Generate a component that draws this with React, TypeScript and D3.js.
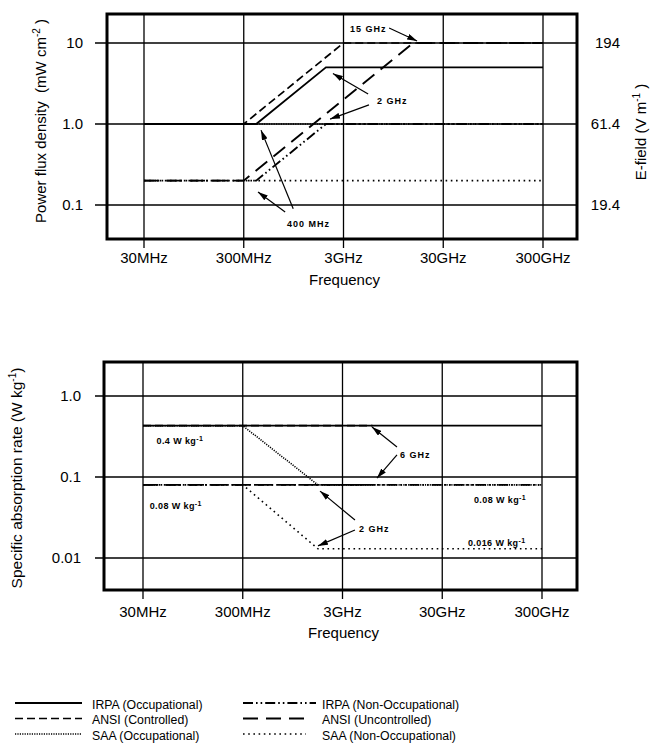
import React from "react";
import * as d3 from "d3";

type Pt = [number, number];

// frequency axis (MHz)
const freqTicks = [30, 300, 3000, 30000, 300000];
const freqTickLabels = ["30MHz", "300MHz", "3GHz", "30GHz", "300GHz"];

// power flux density axis (mW cm-2) and E-field axis (V m-1)
const pfdTicks = [0.1, 1, 10];
const pfdTickLabels = ["0.1", "1.0", "10"];
const efieldTicks = [19.4, 61.4, 194];
const efieldTickLabels = ["19.4", "61.4", "194"];

// SAR axis (W kg-1)
const sarTicks = [0.01, 0.1, 1];
const sarTickLabels = ["0.01", "0.1", "1.0"];

// power flux density limits [MHz, mW cm-2]
const irpaOccPfd: Pt[] = [[30, 1], [400, 1], [2000, 5], [300000, 5]];
const ansiCtrlPfd: Pt[] = [[30, 1], [300, 1], [3000, 10], [300000, 10]];
const saaOccPfd: Pt[] = [[30, 1], [300000, 1]];
const irpaNonPfd: Pt[] = [[30, 0.2], [400, 0.2], [2000, 1], [300000, 1]];
const ansiUncPfd: Pt[] = [[30, 0.2], [300, 0.2], [15000, 10], [300000, 10]];
const saaNonPfd: Pt[] = [[30, 0.2], [300000, 0.2]];

// SAR limits [MHz, W kg-1]
const irpaOccSar: Pt[] = [[30, 0.43], [300000, 0.43]];
const ansiCtrlSar: Pt[] = [[30, 0.43], [6000, 0.43]];
const saaOccSar: Pt[] = [[30, 0.43], [300, 0.43], [1700, 0.08], [300000, 0.08]];
const irpaNonSar: Pt[] = [[30, 0.08], [300000, 0.08]];
const ansiUncSar: Pt[] = [[30, 0.08], [6000, 0.08]];
const saaNonSar: Pt[] = [[30, 0.08], [300, 0.08], [1700, 0.013], [300000, 0.013]];

const seriesKeys = ["irpaOcc", "ansiCtrl", "saaOcc", "irpaNon", "ansiUnc", "saaNon"];
const seriesNames = [
  "IRPA (Occupational)",
  "ANSI (Controlled)",
  "SAA (Occupational)",
  "IRPA (Non-Occupational)",
  "ANSI (Uncontrolled)",
  "SAA (Non-Occupational)",
];

const styles: Record<string, { dash: string; width: number }> = {
  irpaOcc: { dash: "none", width: 1.8 },
  ansiCtrl: { dash: "8 4", width: 1.7 },
  saaOcc: { dash: "1.2 1.2", width: 1.6 },
  irpaNon: { dash: "10 3 1.6 3 1.6 3", width: 1.9 },
  ansiUnc: { dash: "15 8", width: 1.9 },
  saaNon: { dash: "1.6 3.6", width: 1.6 },
};

// annotations in data coordinates: label anchor and arrows [tail, tip]
type Note = { text: string; sup?: string; at: Pt; arrows: [Pt, Pt][] };

const pfdNotes: Note[] = [
  { text: "15 GHz", at: [3480, 14.9], arrows: [[[8600, 15.3], [16400, 10.6]]] },
  {
    text: "2 GHz",
    at: [6500, 1.92],
    arrows: [
      [[5300, 2.35], [2350, 4.2]],
      [[5400, 1.72], [2200, 1.15]],
    ],
  },
  {
    text: "400 MHz",
    at: [814, 0.058],
    arrows: [
      [[940, 0.09], [447, 0.84]],
      [[780, 0.082], [417, 0.145]],
    ],
  },
];

const sarNotes: Note[] = [
  { text: "0.4 W kg", sup: "-1", at: [41, 0.278], arrows: [] },
  { text: "0.08 W kg", sup: "-1", at: [35, 0.0439], arrows: [] },
  { text: "0.08 W kg", sup: "-1", at: [62400, 0.052], arrows: [] },
  { text: "0.016 W kg", sup: "-1", at: [54300, 0.0153], arrows: [] },
  {
    text: "6 GHz",
    at: [11300, 0.187],
    arrows: [
      [[10550, 0.235], [5930, 0.414]],
      [[10550, 0.187], [6650, 0.097]],
    ],
  },
  {
    text: "2 GHz",
    at: [4390, 0.0228],
    arrows: [
      [[4000, 0.0294], [1785, 0.067]],
      [[4000, 0.0222], [1704, 0.0141]],
    ],
  },
];

const FONT = "'Liberation Sans', Arial, Helvetica, sans-serif";

type PanelProps = {
  frame: { x0: number; x1: number; y0: number; y1: number };
  xRange: [number, number];
  yDomain: [number, number];
  yRange: [number, number];
  yTicks: number[];
  yTickLabels: string[];
  tickLabelX: number;
  series: Pt[][];
  notes: Note[];
  xLabelY: number;
  titleY: number;
};

function Panel(p: PanelProps) {
  const x = d3.scaleLog().domain([30, 300000]).range(p.xRange);
  const y = d3.scaleLog().domain(p.yDomain).range(p.yRange);
  const line = d3
    .line<Pt>()
    .x((d) => x(d[0]))
    .y((d) => y(d[1]));
  const { x0, x1, y0, y1 } = p.frame;
  return (
    <g>
      {p.yTicks.map((t, i) => (
        <g key={"h" + i}>
          <line x1={95} x2={x1} y1={y(t)} y2={y(t)} stroke="#000" strokeWidth={1.3} />
          <text x={p.tickLabelX} y={y(t)} dy="0.36em" textAnchor="end" fontSize={15}>
            {p.yTickLabels[i]}
          </text>
        </g>
      ))}
      {freqTicks.map((t, i) => (
        <g key={"v" + i}>
          <line x1={x(t)} x2={x(t)} y1={y0} y2={y1 + 9} stroke="#000" strokeWidth={1.3} />
          <text x={x(t)} y={p.xLabelY} textAnchor="middle" fontSize={15}>
            {freqTickLabels[i]}
          </text>
        </g>
      ))}
      <rect x={x0} y={y0} width={x1 - x0} height={y1 - y0} fill="none" stroke="#000" strokeWidth={3} />
      {p.series.map((s, i) => {
        const st = styles[seriesKeys[i]];
        return (
          <path
            key={"s" + i}
            d={line(s) || ""}
            fill="none"
            stroke="#000"
            strokeWidth={st.width}
            strokeDasharray={st.dash}
          />
        );
      })}
      {p.notes.map((n, i) => (
        <g key={"n" + i}>
          <text
            x={x(n.at[0])}
            y={y(n.at[1])}
            dy="0.35em"
            fontSize={9}
            fontWeight="bold"
            letterSpacing={n.sup ? 0.4 : 1}
          >
            {n.text}
            {n.sup && (
              <tspan dy={-3.5} fontSize={7}>
                {n.sup}
              </tspan>
            )}
          </text>
          {n.arrows.map((a, j) => (
            <line
              key={j}
              x1={x(a[0][0])}
              y1={y(a[0][1])}
              x2={x(a[1][0])}
              y2={y(a[1][1])}
              stroke="#000"
              strokeWidth={1.2}
              markerEnd="url(#ah)"
            />
          ))}
        </g>
      ))}
      <text x={x(3000) + 1} y={p.titleY} textAnchor="middle" fontSize={15}>
        Frequency
      </text>
    </g>
  );
}

export default function App() {
  const ye = d3.scaleLog().domain([19.4, 194]).range([205, 43]);
  const legendLeft = seriesKeys.slice(0, 3);
  const legendRight = seriesKeys.slice(3);
  const rowY = (i: number) => 704 + i * 15.5;
  return (
    <svg
      width={653}
      height={750}
      style={{ position: "absolute", left: 0, top: 0, background: "#fff" }}
      fontFamily={FONT}
    >
      <defs>
        <marker
          id="ah"
          viewBox="0 0 10 6"
          refX={10}
          refY={3}
          markerWidth={10}
          markerHeight={6}
          markerUnits="userSpaceOnUse"
          orient="auto"
        >
          <path d="M0,0L10,3L0,6z" fill="#000" />
        </marker>
      </defs>
      <rect width={653} height={750} fill="#fff" />

      <Panel
        frame={{ x0: 107, x1: 577, y0: 14, y1: 239 }}
        xRange={[144, 543]}
        yDomain={[0.1, 10]}
        yRange={[205, 43]}
        yTicks={pfdTicks}
        yTickLabels={pfdTickLabels}
        tickLabelX={83}
        series={[irpaOccPfd, ansiCtrlPfd, saaOccPfd, irpaNonPfd, ansiUncPfd, saaNonPfd]}
        notes={pfdNotes}
        xLabelY={263}
        titleY={285}
      />
      {efieldTicks.map((t, i) => (
        <text key={"e" + i} x={620} y={ye(t)} dy="0.36em" textAnchor="end" fontSize={15}>
          {efieldTickLabels[i]}
        </text>
      ))}
      <text transform="translate(41,121) rotate(-90)" textAnchor="middle" dy="0.35em" fontSize={15}>
        Power flux density {"\u00a0"}(mW cm
        <tspan dy={-6} fontSize={10}>
          -2
        </tspan>
        <tspan dy={6}> )</tspan>
      </text>
      <text transform="translate(641,132) rotate(-90)" textAnchor="middle" dy="0.35em" fontSize={15}>
        E-field (V m
        <tspan dy={-6} fontSize={10}>
          -1
        </tspan>
        <tspan dy={6}> )</tspan>
      </text>

      <Panel
        frame={{ x0: 104, x1: 577, y0: 362, y1: 590 }}
        xRange={[143, 542]}
        yDomain={[0.01, 1]}
        yRange={[558, 396]}
        yTicks={sarTicks}
        yTickLabels={sarTickLabels}
        tickLabelX={81}
        series={[irpaOccSar, ansiCtrlSar, saaOccSar, irpaNonSar, ansiUncSar, saaNonSar]}
        notes={sarNotes}
        xLabelY={617}
        titleY={638}
      />
      <text transform="translate(17,478) rotate(-90)" textAnchor="middle" dy="0.35em" fontSize={15.5}>
        Specific absorption rate (W kg
        <tspan dy={-6} fontSize={10}>
          -1
        </tspan>
        <tspan dy={6}>)</tspan>
      </text>

      {legendLeft.map((k, i) => (
        <g key={"ll" + i}>
          <line
            x1={15}
            x2={82}
            y1={rowY(i) - 1}
            y2={rowY(i) - 1}
            stroke="#000"
            strokeWidth={styles[k].width}
            strokeDasharray={styles[k].dash}
          />
          <text x={92} y={rowY(i)} dy="0.38em" fontSize={12.3}>
            {seriesNames[i]}
          </text>
        </g>
      ))}
      {legendRight.map((k, i) => (
        <g key={"lr" + i}>
          <line
            x1={243}
            x2={i === 0 ? 316 : 306}
            y1={rowY(i) - 1}
            y2={rowY(i) - 1}
            stroke="#000"
            strokeWidth={styles[k].width}
            strokeDasharray={styles[k].dash}
          />
          <text x={322} y={rowY(i)} dy="0.38em" fontSize={12.3}>
            {seriesNames[i + 3]}
          </text>
        </g>
      ))}
    </svg>
  );
}
